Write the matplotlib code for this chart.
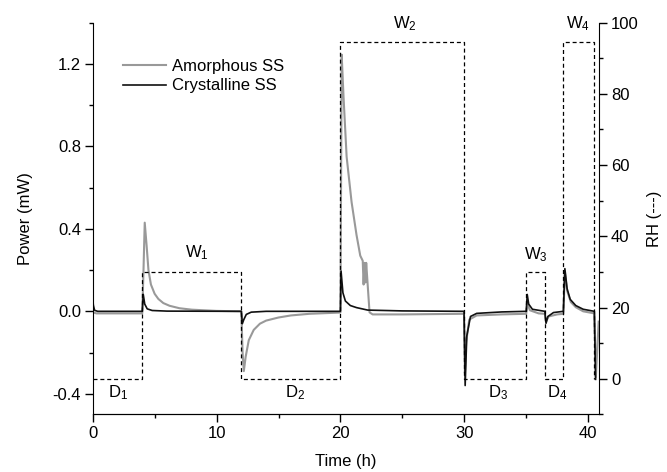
import numpy as np
import matplotlib
matplotlib.use('Agg')
import matplotlib.pyplot as plt
from matplotlib.ticker import MultipleLocator

plt.rcParams['font.family'] = ['Liberation Sans', 'DejaVu Sans']
plt.rcParams['font.size'] = 12
plt.rcParams['mathtext.fontset'] = 'custom'
plt.rcParams['mathtext.rm'] = 'Liberation Sans'

# Аморфный образец (серая линия)
t_amorph = [0, 0.3, 4.0, 4.1, 4.2, 4.35, 4.5, 4.7, 5.0, 5.3, 5.7, 6.2, 7.0, 8.0, 10.0,
            12.0, 12.1, 12.2, 12.35, 12.6, 13.0, 13.5, 14.0, 15.0, 16.0, 17.5,
            20.0, 20.05, 20.1, 20.25, 20.5, 20.9, 21.3, 21.6, 21.8, 21.87, 21.95,
            22.02, 22.08, 22.35, 22.6, 25.0, 29.98, 30.05, 30.15, 30.4, 31.0, 33.0,
            35.0, 35.08, 35.3, 36.0, 36.5, 36.6, 36.8, 37.5, 38.0, 38.12, 38.3, 38.6,
            39.0, 39.6, 40.5, 40.62, 40.85]
p_amorph = [-0.005, -0.01, -0.01, 0.2, 0.43, 0.32, 0.2, 0.13, 0.085, 0.06, 0.04, 0.027, 0.015, 0.008, 0.002,
            0.0, -0.2, -0.29, -0.22, -0.14, -0.09, -0.06, -0.045, -0.03, -0.02, -0.012,
            -0.006, 0.6, 1.245, 1.04, 0.75, 0.53, 0.37, 0.27, 0.245, 0.13, 0.235,
            0.14, 0.235, -0.005, -0.015, -0.015, -0.012, -0.3, -0.15, -0.04, -0.02, -0.015,
            -0.012, 0.04, 0.005, -0.01, -0.012, -0.05, -0.025, -0.015, -0.012, 0.19, 0.1, 0.045,
            0.02, 0.0, -0.01, -0.32, -0.05]

# Кристаллический образец (чёрная линия)
t_cryst = [0, 0.05, 0.15, 0.4, 4.0, 4.08, 4.2, 4.4, 4.8, 6.0, 12.0, 12.08, 12.2, 12.4, 12.8, 14.0,
           20.0, 20.05, 20.2, 20.4, 20.8, 21.3, 22.2, 25.0, 29.98, 30.07, 30.2, 30.5, 31.0, 33.0,
           35.0, 35.08, 35.2, 35.5, 36.5, 36.6, 36.75, 37.2, 38.0, 38.12, 38.3, 38.55, 39.0, 39.6,
           40.5, 40.6]
p_cryst = [0.065, 0.03, 0.005, 0.0, 0.0, 0.082, 0.035, 0.012, 0.004, 0.001, 0.0, -0.06, -0.04, -0.015, -0.004, 0.0,
           0.0, 0.195, 0.09, 0.05, 0.028, 0.018, 0.006, 0.002, 0.0, -0.36, -0.12, -0.025, -0.01, -0.003,
           0.0, 0.082, 0.035, 0.01, 0.0, -0.058, -0.025, -0.006, 0.0, 0.207, 0.11, 0.058, 0.028, 0.01,
           0.0, -0.33]

# Профиль относительной влажности
t_rh = [0, 4, 4, 12, 12, 20, 20, 30, 30, 35, 35, 36.5, 36.5, 38, 38, 40.5, 40.5]
rh = [0, 0, 30, 30, 0, 0, 94.5, 94.5, 0, 0, 30, 30, 0, 0, 94.5, 94.5, 0]

# Подписи этапов: (текст, время, RH)
stage_labels = [('W_1', 8.4, 35.5), ('D_1', 2.05, -3.8), ('D_2', 16.3, -3.8),
                ('W_2', 25.2, 99.7), ('D_3', 32.7, -3.8), ('W_3', 35.8, 34.8),
                ('D_4', 37.5, -3.8), ('W_4', 39.2, 99.6)]

fig = plt.figure(figsize=(6.67, 4.72), dpi=100)
ax = fig.add_axes([0.139, 0.122, 0.7595, 0.830])

ax.plot(t_amorph, p_amorph, color='#999999', lw=1.5, label='Amorphous SS')
ax.plot(t_cryst, p_cryst, color='#111111', lw=1.2, label='Crystalline SS')

ax.set_xlim(0, 40.9)
ax.set_ylim(-0.5, 1.4)
ax.set_xlabel('Time (h)', labelpad=9)
ax.set_ylabel('Power (mW)', labelpad=14)
ax.xaxis.set_major_locator(MultipleLocator(10))
ax.xaxis.set_minor_locator(MultipleLocator(5))
ax.yaxis.set_minor_locator(MultipleLocator(0.2))
ax.set_yticks([-0.4, 0.0, 0.4, 0.8, 1.2])
ax.set_yticklabels(['-0.4', '0.0', '0.4', '0.8', '1.2'])
ax.spines['top'].set_visible(False)
ax.spines['right'].set_visible(False)
ax.tick_params(which='major', direction='out', length=5.5, width=1, pad=3)
ax.tick_params(which='minor', direction='out', length=3, width=1)

ax2 = ax.twinx()
ax2.plot(t_rh, rh, color='black', lw=0.9, ls=(0, (3.2, 2.3)))
ax2.set_ylim(-10, 100)
ax2.set_ylabel('RH (---)', labelpad=6)
ax2.yaxis.set_major_locator(MultipleLocator(20))
ax2.yaxis.set_minor_locator(MultipleLocator(10))
ax2.spines['top'].set_visible(False)
ax2.spines['left'].set_visible(False)
ax2.tick_params(which='major', direction='out', length=5.5, width=1, pad=3)
ax2.tick_params(which='minor', direction='out', length=3, width=1)

for txt, tx, ty in stage_labels:
    ax2.text(tx, ty, r'$\mathregular{' + txt + '}$', ha='center', va='center', fontsize=12)

ax.legend(loc='upper left', bbox_to_anchor=(0.03, 0.945), frameon=False,
          handlelength=2.6, handletextpad=0.35, labelspacing=0.25)

fig.savefig('out.png', dpi=100)
